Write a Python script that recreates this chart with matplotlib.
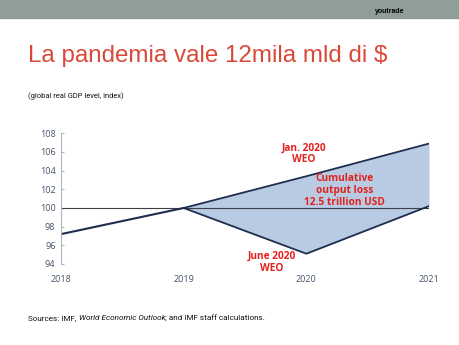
import matplotlib
matplotlib.use("Agg")
import matplotlib.pyplot as plt
from matplotlib.patches import Rectangle

years = [2018, 2019, 2020, 2021]
hist_years = [2018, 2019]
hist_gdp = [97.2, 100.0]
fc_years = [2019, 2020, 2021]
jan_weo = [100.0, 103.4, 106.9]
june_weo = [100.0, 95.1, 100.2]
yticks = [94, 96, 98, 100, 102, 104, 106, 108]

navy = "#1f2d4f"
red = "#e3211c"
fill_c = "#b8cbe3"
tick_c = "#44546a"

fig = plt.figure(figsize=(4.6, 3.45), dpi=100)

# top grey band of the slide
fig.patches.append(Rectangle((0, 1 - 18 / 345), 1, 18 / 345, transform=fig.transFigure,
                             color="#8f9e96", zorder=0))
fig.text(0.815, 0.962, "youtrade", fontsize=5, fontweight="bold", color="black",
         family="Liberation Sans")

fig.text(0.061, 0.82, "La pandemia vale 12mila mld di $", fontsize=17.4,
         color="#d9493a", family="Liberation Sans")
fig.text(0.061, 0.716, "(global real GDP level, index)", fontsize=5.4,
         color="#111111", family="Roboto")

# footer: chain the pieces so the italic title sits right after "IMF,"
renderer = fig.canvas.get_renderer()
x = 0.061
for part, st in [("Sources: IMF, ", "normal"), ("World Economic Outlook", "italic"),
                 ("; and IMF staff calculations.", "normal")]:
    t = fig.text(x, 0.073, part, fontsize=5.9, color="#111111", family="Roboto", style=st)
    bb = t.get_window_extent(renderer)
    x += bb.width / fig.bbox.width

ax = fig.add_axes([0.1326, 0.2348, 0.8, 0.3788])
ax.fill_between(fc_years, june_weo, jan_weo, color=fill_c, lw=0)
ax.axhline(100, color="#3a3f4a", lw=0.8)
ax.plot(hist_years, hist_gdp, color=navy, lw=1.5)
ax.plot(fc_years, jan_weo, color=navy, lw=1.3)
ax.plot(fc_years, june_weo, color=navy, lw=1.3)

ax.set_xlim(2018, 2021)
ax.set_ylim(94, 108)
ax.set_xticks(years)
ax.set_yticks(yticks)
for s in ["top", "right", "bottom"]:
    ax.spines[s].set_visible(False)
ax.spines["left"].set_color("#b0b4bc")
ax.spines["left"].set_linewidth(0.8)
ax.tick_params(axis="y", direction="in", length=2.5, color="#b0b4bc",
               labelsize=6.5, labelcolor=tick_c, pad=4)
ax.tick_params(axis="x", length=0, labelsize=6.5, labelcolor=tick_c, pad=8)
for lab in ax.get_xticklabels() + ax.get_yticklabels():
    lab.set_family("Open Sans")

txt = dict(color=red, fontsize=7.3, fontweight="bold", ha="center", va="center",
           family="Open Sans", linespacing=1.15)
ax.text(2019.98, 105.8, "Jan. 2020\nWEO", **txt)
ax.text(2020.31, 101.85, "Cumulative\noutput loss\n12.5 trillion USD", **txt)
ax.text(2019.72, 94.15, "June 2020\nWEO", **txt)

fig.savefig("out.png", dpi=100)
